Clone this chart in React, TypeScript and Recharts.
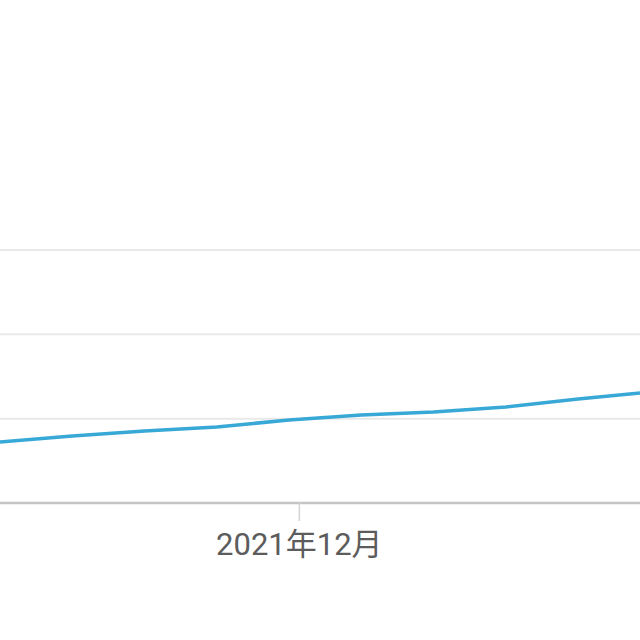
import { LineChart, Line, XAxis, YAxis, CartesianGrid } from 'recharts'

// weekly readings, the last one is a few days short of a week
const dates = [
  '2021-11-02', '2021-11-09', '2021-11-16', '2021-11-23', '2021-11-30',
  '2021-12-07', '2021-12-14', '2021-12-21', '2021-12-28', '2022-01-03',
]
const values = [36.2, 39.7, 42.7, 45.1, 49.2, 52.2, 54.0, 56.9, 61.7, 65.2]

const xTickDates = ['2021-12-01']
const xTickLabels = ['2021年12月']
const yTicks = [0, 50, 100, 150]

const data = dates.map((d, i) => ({ t: Date.parse(d), value: values[i] }))
const xTicks = xTickDates.map((d) => Date.parse(d))

const lineColor = '#38a9d6'
const gridColor = '#e9e9e9'
const axisColor = '#c4c4c4'
const textColor = '#5c5c5c'

export default function App() {
  return (
    <div style={{ position: 'absolute', left: 0, top: 0, width: 640, height: 640, background: '#fff', overflow: 'hidden' }}>
      <LineChart width={640} height={640} data={data} margin={{ top: 250, right: 0, left: 0, bottom: 77 }}>
        <CartesianGrid vertical={false} stroke={gridColor} strokeWidth={2} />
        <XAxis
          dataKey="t"
          type="number"
          scale="time"
          domain={['dataMin', 'dataMax']}
          ticks={xTicks}
          tickFormatter={(v) => xTickLabels[xTicks.indexOf(v)] ?? ''}
          height={60}
          tickSize={18}
          tickMargin={12}
          axisLine={{ stroke: axisColor, strokeWidth: 2.5 }}
          tickLine={{ stroke: '#d4d4d4', strokeWidth: 1.5 }}
          tick={{ fill: textColor, fontSize: 31, fontFamily: "Roboto, 'Noto Sans CJK SC', sans-serif" }}
        />
        <YAxis hide domain={[0, 150]} ticks={yTicks} />
        <Line
          type="linear"
          dataKey="value"
          stroke={lineColor}
          strokeWidth={3.5}
          dot={false}
          isAnimationActive={false}
        />
      </LineChart>
    </div>
  )
}
